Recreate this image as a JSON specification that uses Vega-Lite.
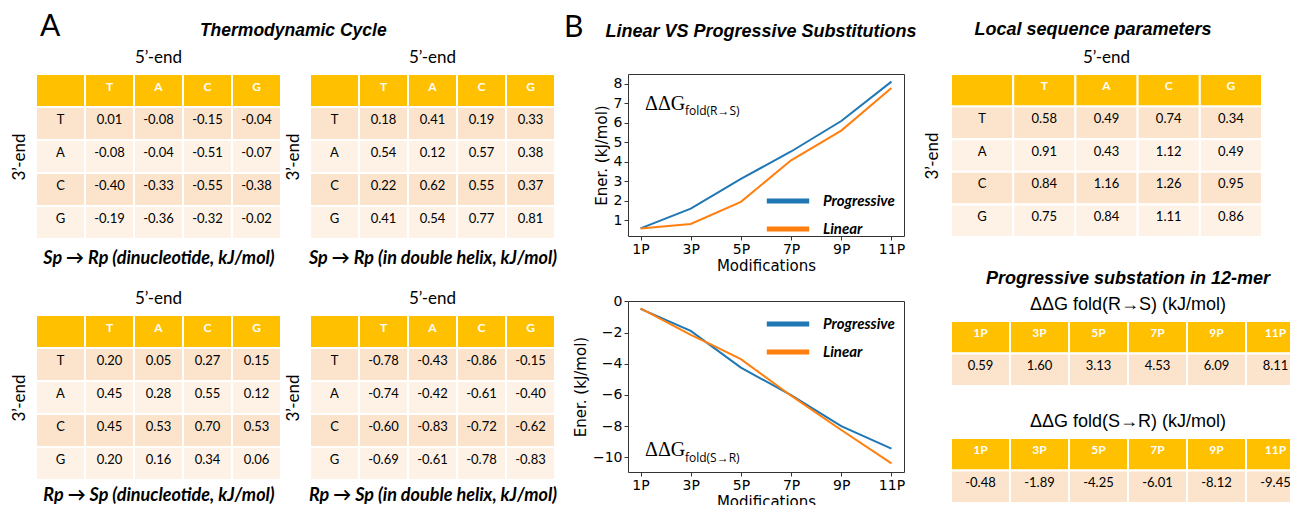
{
"$schema": "https://vega.github.io/schema/vega-lite/v6.json",
"padding": {"left": 10, "top": 11, "right": 0, "bottom": 0},
"config": {
  "view": {"stroke": null},
  "font": "Lato",
  "locale": {"number": {"decimal": ".", "thousands": ",", "grouping": [3], "currency": ["$", ""], "minus": "-"}},
  "text": {"font": "Lato", "fontSize": 13, "baseline": "middle", "dy": -4},
  "title": {"color": "black"}
},
"datasets": {
  "cells": [
    {"tab":"hdr","r":"_","c":"_","lab":""},
    {"tab":"hdr","r":"_","c":"T","lab":"T"},
    {"tab":"hdr","r":"_","c":"A","lab":"A"},
    {"tab":"hdr","r":"_","c":"C","lab":"C"},
    {"tab":"hdr","r":"_","c":"G","lab":"G"},
    {"tab":"hdr","r":"T","c":"_","lab":"T"},
    {"tab":"hdr","r":"A","c":"_","lab":"A"},
    {"tab":"hdr","r":"C","c":"_","lab":"C"},
    {"tab":"hdr","r":"G","c":"_","lab":"G"},
    {"tab":"sr_di","r":"T","c":"T","val":0.01},{"tab":"sr_di","r":"T","c":"A","val":-0.08},{"tab":"sr_di","r":"T","c":"C","val":-0.15},{"tab":"sr_di","r":"T","c":"G","val":-0.04},
    {"tab":"sr_di","r":"A","c":"T","val":-0.08},{"tab":"sr_di","r":"A","c":"A","val":-0.04},{"tab":"sr_di","r":"A","c":"C","val":-0.51},{"tab":"sr_di","r":"A","c":"G","val":-0.07},
    {"tab":"sr_di","r":"C","c":"T","val":-0.40},{"tab":"sr_di","r":"C","c":"A","val":-0.33},{"tab":"sr_di","r":"C","c":"C","val":-0.55},{"tab":"sr_di","r":"C","c":"G","val":-0.38},
    {"tab":"sr_di","r":"G","c":"T","val":-0.19},{"tab":"sr_di","r":"G","c":"A","val":-0.36},{"tab":"sr_di","r":"G","c":"C","val":-0.32},{"tab":"sr_di","r":"G","c":"G","val":-0.02},
    {"tab":"sr_dh","r":"T","c":"T","val":0.18},{"tab":"sr_dh","r":"T","c":"A","val":0.41},{"tab":"sr_dh","r":"T","c":"C","val":0.19},{"tab":"sr_dh","r":"T","c":"G","val":0.33},
    {"tab":"sr_dh","r":"A","c":"T","val":0.54},{"tab":"sr_dh","r":"A","c":"A","val":0.12},{"tab":"sr_dh","r":"A","c":"C","val":0.57},{"tab":"sr_dh","r":"A","c":"G","val":0.38},
    {"tab":"sr_dh","r":"C","c":"T","val":0.22},{"tab":"sr_dh","r":"C","c":"A","val":0.62},{"tab":"sr_dh","r":"C","c":"C","val":0.55},{"tab":"sr_dh","r":"C","c":"G","val":0.37},
    {"tab":"sr_dh","r":"G","c":"T","val":0.41},{"tab":"sr_dh","r":"G","c":"A","val":0.54},{"tab":"sr_dh","r":"G","c":"C","val":0.77},{"tab":"sr_dh","r":"G","c":"G","val":0.81},
    {"tab":"rs_di","r":"T","c":"T","val":0.20},{"tab":"rs_di","r":"T","c":"A","val":0.05},{"tab":"rs_di","r":"T","c":"C","val":0.27},{"tab":"rs_di","r":"T","c":"G","val":0.15},
    {"tab":"rs_di","r":"A","c":"T","val":0.45},{"tab":"rs_di","r":"A","c":"A","val":0.28},{"tab":"rs_di","r":"A","c":"C","val":0.55},{"tab":"rs_di","r":"A","c":"G","val":0.12},
    {"tab":"rs_di","r":"C","c":"T","val":0.45},{"tab":"rs_di","r":"C","c":"A","val":0.53},{"tab":"rs_di","r":"C","c":"C","val":0.70},{"tab":"rs_di","r":"C","c":"G","val":0.53},
    {"tab":"rs_di","r":"G","c":"T","val":0.20},{"tab":"rs_di","r":"G","c":"A","val":0.16},{"tab":"rs_di","r":"G","c":"C","val":0.34},{"tab":"rs_di","r":"G","c":"G","val":0.06},
    {"tab":"rs_dh","r":"T","c":"T","val":-0.78},{"tab":"rs_dh","r":"T","c":"A","val":-0.43},{"tab":"rs_dh","r":"T","c":"C","val":-0.86},{"tab":"rs_dh","r":"T","c":"G","val":-0.15},
    {"tab":"rs_dh","r":"A","c":"T","val":-0.74},{"tab":"rs_dh","r":"A","c":"A","val":-0.42},{"tab":"rs_dh","r":"A","c":"C","val":-0.61},{"tab":"rs_dh","r":"A","c":"G","val":-0.40},
    {"tab":"rs_dh","r":"C","c":"T","val":-0.60},{"tab":"rs_dh","r":"C","c":"A","val":-0.83},{"tab":"rs_dh","r":"C","c":"C","val":-0.72},{"tab":"rs_dh","r":"C","c":"G","val":-0.62},
    {"tab":"rs_dh","r":"G","c":"T","val":-0.69},{"tab":"rs_dh","r":"G","c":"A","val":-0.61},{"tab":"rs_dh","r":"G","c":"C","val":-0.78},{"tab":"rs_dh","r":"G","c":"G","val":-0.83},
    {"tab":"loc","r":"T","c":"T","val":0.58},{"tab":"loc","r":"T","c":"A","val":0.49},{"tab":"loc","r":"T","c":"C","val":0.74},{"tab":"loc","r":"T","c":"G","val":0.34},
    {"tab":"loc","r":"A","c":"T","val":0.91},{"tab":"loc","r":"A","c":"A","val":0.43},{"tab":"loc","r":"A","c":"C","val":1.12},{"tab":"loc","r":"A","c":"G","val":0.49},
    {"tab":"loc","r":"C","c":"T","val":0.84},{"tab":"loc","r":"C","c":"A","val":1.16},{"tab":"loc","r":"C","c":"C","val":1.26},{"tab":"loc","r":"C","c":"G","val":0.95},
    {"tab":"loc","r":"G","c":"T","val":0.75},{"tab":"loc","r":"G","c":"A","val":0.84},{"tab":"loc","r":"G","c":"C","val":1.11},{"tab":"loc","r":"G","c":"G","val":0.86}
  ],
  "prog": [
    {"tab":"phdr","r":"_","c":"1P","lab":"1P"},{"tab":"phdr","r":"_","c":"3P","lab":"3P"},{"tab":"phdr","r":"_","c":"5P","lab":"5P"},
    {"tab":"phdr","r":"_","c":"7P","lab":"7P"},{"tab":"phdr","r":"_","c":"9P","lab":"9P"},{"tab":"phdr","r":"_","c":"11P","lab":"11P"},
    {"tab":"RS","r":"v","c":"1P","val":0.59},{"tab":"RS","r":"v","c":"3P","val":1.60},{"tab":"RS","r":"v","c":"5P","val":3.13},
    {"tab":"RS","r":"v","c":"7P","val":4.53},{"tab":"RS","r":"v","c":"9P","val":6.09},{"tab":"RS","r":"v","c":"11P","val":8.11},
    {"tab":"SR","r":"v","c":"1P","val":-0.48},{"tab":"SR","r":"v","c":"3P","val":-1.89},{"tab":"SR","r":"v","c":"5P","val":-4.25},
    {"tab":"SR","r":"v","c":"7P","val":-6.01},{"tab":"SR","r":"v","c":"9P","val":-8.12},{"tab":"SR","r":"v","c":"11P","val":-9.45}
  ],
  "lines": [
    {"chart":"RS","series":"Progressive","m":1,"e":0.59},{"chart":"RS","series":"Progressive","m":3,"e":1.60},{"chart":"RS","series":"Progressive","m":5,"e":3.13},
    {"chart":"RS","series":"Progressive","m":7,"e":4.53},{"chart":"RS","series":"Progressive","m":9,"e":6.09},{"chart":"RS","series":"Progressive","m":11,"e":8.11},
    {"chart":"RS","series":"Linear","m":1,"e":0.58},{"chart":"RS","series":"Linear","m":3,"e":0.82},{"chart":"RS","series":"Linear","m":5,"e":1.95},
    {"chart":"RS","series":"Linear","m":7,"e":4.08},{"chart":"RS","series":"Linear","m":9,"e":5.6},{"chart":"RS","series":"Linear","m":11,"e":7.78},
    {"chart":"SR","series":"Progressive","m":1,"e":-0.48},{"chart":"SR","series":"Progressive","m":3,"e":-1.89},{"chart":"SR","series":"Progressive","m":5,"e":-4.25},
    {"chart":"SR","series":"Progressive","m":7,"e":-6.01},{"chart":"SR","series":"Progressive","m":9,"e":-8.0},{"chart":"SR","series":"Progressive","m":11,"e":-9.45},
    {"chart":"SR","series":"Linear","m":1,"e":-0.45},{"chart":"SR","series":"Linear","m":3,"e":-2.15},{"chart":"SR","series":"Linear","m":3.8,"e":-2.75},
    {"chart":"SR","series":"Linear","m":5,"e":-3.7},{"chart":"SR","series":"Linear","m":7,"e":-6.05},{"chart":"SR","series":"Linear","m":9,"e":-8.25},
    {"chart":"SR","series":"Linear","m":11,"e":-10.4}
  ]
},
"spacing": 6,
"hconcat": [
  {
    "title": {"text": "A", "anchor": "start", "font": "Lato", "fontSize": 30, "fontWeight": "normal", "offset": -20, "dx": 30},
    "vconcat": [{
      "title": {"text": "Thermodynamic Cycle", "font": "Liberation Sans", "fontSize": 17.5, "fontStyle": "italic", "fontWeight": "bold", "anchor": "middle", "offset": 10, "dx": 10},
      "spacing": 23,
      "vconcat": [
        {"spacing": 2, "hconcat": [
          {"width": 245, "height": 165, "data": {"name": "cells"},
           "transform": [{"filter": "datum.tab=='hdr' || datum.tab=='sr_di'"}],
           "title": {"text": "5’-end", "font": "Lato", "fontSize": 17, "fontWeight": "normal", "offset": 6},
           "encoding": {
             "x": {"field": "c", "type": "nominal", "sort": ["_","T","A","C","G"], "scale": {"paddingInner": 0, "paddingOuter": 0},
                   "axis": {"orient": "bottom", "title": "Sp → Rp (dinucleotide, kJ/mol)", "labels": false, "ticks": false, "domain": false, "titleFont": "Lato", "titleFontSize": 18, "titleFontWeight": "bold", "titleFontStyle": "italic", "titlePadding": 10, "titleColor": "black"}},
             "y": {"field": "r", "type": "nominal", "sort": ["_","T","A","C","G"], "scale": {"paddingInner": 0, "paddingOuter": 0},
                   "axis": {"title": "3’-end", "labels": false, "ticks": false, "domain": false, "titleFont": "Lato", "titleFontSize": 17, "titleFontWeight": "normal", "titlePadding": 8, "titleColor": "black"}}
           },
           "layer": [
             {"mark": {"type": "rect", "stroke": "white", "strokeWidth": 2}, "encoding": {"fill": {"field": "r", "type": "nominal", "scale": {"domain": ["_","T","A","C","G","v"], "range": ["#FFC000","#FCE4CC","#FEF2E6","#FCE4CC","#FEF2E6","#FCE4CC"]}, "legend": null}}},
             {"transform": [{"filter": "datum.r=='_'"}], "mark": {"type": "text", "color": "white", "fontWeight": "bold", "fontSize": 12}, "encoding": {"text": {"field": "lab"}}},
             {"transform": [{"filter": "datum.r!='_' && datum.c=='_'"}], "mark": {"type": "text", "color": "black"}, "encoding": {"text": {"field": "lab"}}},
             {"transform": [{"filter": "isValid(datum.val)"}], "mark": {"type": "text", "color": "black"}, "encoding": {"text": {"field": "val", "type": "quantitative", "format": ".2f"}}}
           ]},
          {"width": 245, "height": 165, "data": {"name": "cells"},
           "transform": [{"filter": "datum.tab=='hdr' || datum.tab=='sr_dh'"}],
           "title": {"text": "5’-end", "font": "Lato", "fontSize": 17, "fontWeight": "normal", "offset": 6},
           "encoding": {
             "x": {"field": "c", "type": "nominal", "sort": ["_","T","A","C","G"], "scale": {"paddingInner": 0, "paddingOuter": 0},
                   "axis": {"orient": "bottom", "title": "Sp → Rp (in double helix, kJ/mol)", "labels": false, "ticks": false, "domain": false, "titleFont": "Lato", "titleFontSize": 18, "titleFontWeight": "bold", "titleFontStyle": "italic", "titlePadding": 10, "titleColor": "black"}},
             "y": {"field": "r", "type": "nominal", "sort": ["_","T","A","C","G"], "scale": {"paddingInner": 0, "paddingOuter": 0},
                   "axis": {"title": "3’-end", "labels": false, "ticks": false, "domain": false, "titleFont": "Lato", "titleFontSize": 17, "titleFontWeight": "normal", "titlePadding": 8, "titleColor": "black"}}
           },
           "layer": [
             {"mark": {"type": "rect", "stroke": "white", "strokeWidth": 2}, "encoding": {"fill": {"field": "r", "type": "nominal", "scale": {"domain": ["_","T","A","C","G","v"], "range": ["#FFC000","#FCE4CC","#FEF2E6","#FCE4CC","#FEF2E6","#FCE4CC"]}, "legend": null}}},
             {"transform": [{"filter": "datum.r=='_'"}], "mark": {"type": "text", "color": "white", "fontWeight": "bold", "fontSize": 12}, "encoding": {"text": {"field": "lab"}}},
             {"transform": [{"filter": "datum.r!='_' && datum.c=='_'"}], "mark": {"type": "text", "color": "black"}, "encoding": {"text": {"field": "lab"}}},
             {"transform": [{"filter": "isValid(datum.val)"}], "mark": {"type": "text", "color": "black"}, "encoding": {"text": {"field": "val", "type": "quantitative", "format": ".2f"}}}
           ]}
        ]},
        {"spacing": 2, "hconcat": [
          {"width": 245, "height": 165, "data": {"name": "cells"},
           "transform": [{"filter": "datum.tab=='hdr' || datum.tab=='rs_di'"}],
           "title": {"text": "5’-end", "font": "Lato", "fontSize": 17, "fontWeight": "normal", "offset": 6},
           "encoding": {
             "x": {"field": "c", "type": "nominal", "sort": ["_","T","A","C","G"], "scale": {"paddingInner": 0, "paddingOuter": 0},
                   "axis": {"orient": "bottom", "title": "Rp → Sp (dinucleotide, kJ/mol)", "labels": false, "ticks": false, "domain": false, "titleFont": "Lato", "titleFontSize": 18, "titleFontWeight": "bold", "titleFontStyle": "italic", "titlePadding": 6, "titleColor": "black"}},
             "y": {"field": "r", "type": "nominal", "sort": ["_","T","A","C","G"], "scale": {"paddingInner": 0, "paddingOuter": 0},
                   "axis": {"title": "3’-end", "labels": false, "ticks": false, "domain": false, "titleFont": "Lato", "titleFontSize": 17, "titleFontWeight": "normal", "titlePadding": 8, "titleColor": "black"}}
           },
           "layer": [
             {"mark": {"type": "rect", "stroke": "white", "strokeWidth": 2}, "encoding": {"fill": {"field": "r", "type": "nominal", "scale": {"domain": ["_","T","A","C","G","v"], "range": ["#FFC000","#FCE4CC","#FEF2E6","#FCE4CC","#FEF2E6","#FCE4CC"]}, "legend": null}}},
             {"transform": [{"filter": "datum.r=='_'"}], "mark": {"type": "text", "color": "white", "fontWeight": "bold", "fontSize": 12}, "encoding": {"text": {"field": "lab"}}},
             {"transform": [{"filter": "datum.r!='_' && datum.c=='_'"}], "mark": {"type": "text", "color": "black"}, "encoding": {"text": {"field": "lab"}}},
             {"transform": [{"filter": "isValid(datum.val)"}], "mark": {"type": "text", "color": "black"}, "encoding": {"text": {"field": "val", "type": "quantitative", "format": ".2f"}}}
           ]},
          {"width": 245, "height": 165, "data": {"name": "cells"},
           "transform": [{"filter": "datum.tab=='hdr' || datum.tab=='rs_dh'"}],
           "title": {"text": "5’-end", "font": "Lato", "fontSize": 17, "fontWeight": "normal", "offset": 6},
           "encoding": {
             "x": {"field": "c", "type": "nominal", "sort": ["_","T","A","C","G"], "scale": {"paddingInner": 0, "paddingOuter": 0},
                   "axis": {"orient": "bottom", "title": "Rp → Sp (in double helix, kJ/mol)", "labels": false, "ticks": false, "domain": false, "titleFont": "Lato", "titleFontSize": 18, "titleFontWeight": "bold", "titleFontStyle": "italic", "titlePadding": 6, "titleColor": "black"}},
             "y": {"field": "r", "type": "nominal", "sort": ["_","T","A","C","G"], "scale": {"paddingInner": 0, "paddingOuter": 0},
                   "axis": {"title": "3’-end", "labels": false, "ticks": false, "domain": false, "titleFont": "Lato", "titleFontSize": 17, "titleFontWeight": "normal", "titlePadding": 8, "titleColor": "black"}}
           },
           "layer": [
             {"mark": {"type": "rect", "stroke": "white", "strokeWidth": 2}, "encoding": {"fill": {"field": "r", "type": "nominal", "scale": {"domain": ["_","T","A","C","G","v"], "range": ["#FFC000","#FCE4CC","#FEF2E6","#FCE4CC","#FEF2E6","#FCE4CC"]}, "legend": null}}},
             {"transform": [{"filter": "datum.r=='_'"}], "mark": {"type": "text", "color": "white", "fontWeight": "bold", "fontSize": 12}, "encoding": {"text": {"field": "lab"}}},
             {"transform": [{"filter": "datum.r!='_' && datum.c=='_'"}], "mark": {"type": "text", "color": "black"}, "encoding": {"text": {"field": "lab"}}},
             {"transform": [{"filter": "isValid(datum.val)"}], "mark": {"type": "text", "color": "black"}, "encoding": {"text": {"field": "val", "type": "quantitative", "format": ".2f"}}}
           ]}
        ]}
      ]
    }]
  },
  {
    "title": {"text": "B", "anchor": "start", "font": "Lato", "fontSize": 30, "fontWeight": "normal", "offset": -20, "dx": -9},
    "vconcat": [{
      "title": {"text": "Linear VS Progressive Substitutions", "font": "Liberation Sans", "fontSize": 18, "fontStyle": "italic", "fontWeight": "bold", "anchor": "middle", "offset": 33, "dx": 22},
      "spacing": 19,
      "resolve": {"scale": {"color": "independent"}},
      "vconcat": [
        {"width": 276, "height": 162, "view": {"stroke": "#333", "strokeWidth": 1},
         "layer": [
           {"data": {"name": "lines"}, "transform": [{"filter": "datum.chart=='RS'"}],
            "mark": {"type": "line", "strokeWidth": 2},
            "encoding": {
              "x": {"field": "m", "type": "quantitative", "scale": {"domain": [0.5, 11.5], "nice": false, "zero": false},
                    "axis": {"values": [1,3,5,7,9,11], "tickCount": 20, "labelExpr": "datum.value + 'P'", "labelOverlap": false, "grid": false, "domain": false, "tickSize": 4, "tickColor": "#333", "labelFont": "DejaVu Sans", "labelFontSize": 14, "labelColor": "black", "labelPadding": 2, "title": "Modifications", "titleFont": "DejaVu Sans", "titleFontSize": 15, "titleFontWeight": "normal", "titleColor": "black", "titlePadding": 2}},
              "y": {"field": "e", "type": "quantitative", "scale": {"domain": [0.2, 8.5], "nice": false, "zero": false},
                    "axis": {"values": [1,2,3,4,5,6,7,8], "tickCount": 20, "format": "d", "labelOverlap": false, "grid": false, "domain": false, "tickSize": 4, "tickColor": "#333", "labelFont": "DejaVu Sans", "labelFontSize": 14, "labelColor": "black", "labelPadding": 2, "title": "Ener. (kJ/mol)", "titleFont": "DejaVu Sans", "titleFontSize": 15, "titleFontWeight": "normal", "titleColor": "black", "titlePadding": 4}},
              "color": {"field": "series", "type": "nominal", "scale": {"domain": ["Progressive", "Linear"], "range": ["#1f77b4", "#ff7f0e"]},
                        "legend": {"orient": "none", "legendX": 136, "legendY": 113, "title": null, "symbolType": "stroke", "symbolStrokeWidth": 5, "symbolSize": 1800, "clipHeight": 28, "labelFont": "Lato", "labelFontStyle": "italic", "labelFontWeight": "bold", "labelFontSize": 15, "labelColor": "black", "labelOffset": 11, "rowPadding": 0}}
            }},
           {"data": {"values": [{}]}, "mark": {"type": "text", "font": "Liberation Serif", "fontSize": 20, "align": "left", "baseline": "alphabetic", "dy": 0},
            "encoding": {"x": {"datum": 1.18, "type": "quantitative"}, "y": {"datum": 6.67, "type": "quantitative"}, "text": {"value": "ΔΔG"}}},
           {"data": {"values": [{}]}, "mark": {"type": "text", "font": "Open Sans", "fontSize": 12, "align": "left", "baseline": "alphabetic", "dy": 0},
            "encoding": {"x": {"datum": 2.77, "type": "quantitative"}, "y": {"datum": 6.42, "type": "quantitative"}, "text": {"value": "fold(R→S)"}}}
         ]},
        {"width": 276, "height": 171, "view": {"stroke": "#333", "strokeWidth": 1},
         "layer": [
           {"data": {"name": "lines"}, "transform": [{"filter": "datum.chart=='SR'"}],
            "mark": {"type": "line", "strokeWidth": 2},
            "encoding": {
              "x": {"field": "m", "type": "quantitative", "scale": {"domain": [0.5, 11.5], "nice": false, "zero": false},
                    "axis": {"values": [1,3,5,7,9,11], "tickCount": 20, "labelExpr": "datum.value + 'P'", "labelOverlap": false, "grid": false, "domain": false, "tickSize": 4, "tickColor": "#333", "labelFont": "DejaVu Sans", "labelFontSize": 14, "labelColor": "black", "labelPadding": 2, "title": "Modifications", "titleFont": "DejaVu Sans", "titleFontSize": 15, "titleFontWeight": "normal", "titleColor": "black", "titlePadding": 2}},
              "y": {"field": "e", "type": "quantitative", "scale": {"domain": [-10.95, 0.03], "nice": false, "zero": false},
                    "axis": {"values": [0,-2,-4,-6,-8,-10], "tickCount": 20, "format": "d", "labelExpr": "replace(datum.label, '-', '−')", "labelOverlap": false, "grid": false, "domain": false, "tickSize": 4, "tickColor": "#333", "labelFont": "DejaVu Sans", "labelFontSize": 14, "labelColor": "black", "labelPadding": 2, "title": "Ener. (kJ/mol)", "titleFont": "DejaVu Sans", "titleFontSize": 15, "titleFontWeight": "normal", "titleColor": "black", "titlePadding": 4}},
              "color": {"field": "series", "type": "nominal", "scale": {"domain": ["Progressive", "Linear"], "range": ["#1f77b4", "#ff7f0e"]},
                        "legend": {"orient": "none", "legendX": 136, "legendY": 9, "title": null, "symbolType": "stroke", "symbolStrokeWidth": 5, "symbolSize": 1800, "clipHeight": 28, "labelFont": "Lato", "labelFontStyle": "italic", "labelFontWeight": "bold", "labelFontSize": 15, "labelColor": "black", "labelOffset": 11, "rowPadding": 0}}
            }},
           {"data": {"values": [{}]}, "mark": {"type": "text", "font": "Liberation Serif", "fontSize": 20, "align": "left", "baseline": "alphabetic", "dy": 0},
            "encoding": {"x": {"datum": 1.18, "type": "quantitative"}, "y": {"datum": -9.94, "type": "quantitative"}, "text": {"value": "ΔΔG"}}},
           {"data": {"values": [{}]}, "mark": {"type": "text", "font": "Open Sans", "fontSize": 12, "align": "left", "baseline": "alphabetic", "dy": 0},
            "encoding": {"x": {"datum": 2.77, "type": "quantitative"}, "y": {"datum": -10.3, "type": "quantitative"}, "text": {"value": "fold(S→R)"}}}
         ]}
      ]
    }]
  },
  {
    "columns": 1,
    "align": "none",
    "spacing": 32,
    "concat": [
      {"title": {"text": "Local sequence parameters", "font": "Liberation Sans", "fontSize": 18, "fontStyle": "italic", "fontWeight": "bold", "anchor": "middle", "offset": 10},
       "vconcat": [
        {"width": 311, "height": 163, "data": {"name": "cells"},
         "transform": [{"filter": "datum.tab=='hdr' || datum.tab=='loc'"}],
         "title": {"text": "5’-end", "font": "Lato", "fontSize": 17, "fontWeight": "normal", "offset": 6},
         "encoding": {
           "x": {"field": "c", "type": "nominal", "sort": ["_","T","A","C","G"], "scale": {"paddingInner": 0, "paddingOuter": 0}, "axis": null},
           "y": {"field": "r", "type": "nominal", "sort": ["_","T","A","C","G"], "scale": {"paddingInner": 0, "paddingOuter": 0},
                 "axis": {"title": "3’-end", "labels": false, "ticks": false, "domain": false, "titleFont": "Lato", "titleFontSize": 17, "titleFontWeight": "normal", "titlePadding": 10, "titleColor": "black"}}
         },
         "layer": [
           {"mark": {"type": "rect", "stroke": "white", "strokeWidth": 2}, "encoding": {"fill": {"field": "r", "type": "nominal", "scale": {"domain": ["_","T","A","C","G","v"], "range": ["#FFC000","#FCE4CC","#FEF2E6","#FCE4CC","#FEF2E6","#FCE4CC"]}, "legend": null}}},
           {"transform": [{"filter": "datum.r=='_'"}], "mark": {"type": "text", "color": "white", "fontWeight": "bold", "fontSize": 12}, "encoding": {"text": {"field": "lab"}}},
           {"transform": [{"filter": "datum.r!='_' && datum.c=='_'"}], "mark": {"type": "text", "color": "black"}, "encoding": {"text": {"field": "lab"}}},
           {"transform": [{"filter": "isValid(datum.val)"}], "mark": {"type": "text", "color": "black"}, "encoding": {"text": {"field": "val", "type": "quantitative", "format": ".2f"}}}
         ]}
       ]},
      {"title": {"text": "Progressive substation in 12-mer", "font": "Liberation Sans", "fontSize": 18, "fontStyle": "italic", "fontWeight": "bold", "anchor": "middle", "offset": 8},
       "spacing": 26,
       "vconcat": [
        {"width": 354, "height": 65, "data": {"name": "prog"},
         "transform": [{"filter": "datum.tab=='phdr' || datum.tab=='RS'"}],
         "title": {"text": "ΔΔG fold(R→S) (kJ/mol)", "font": "Liberation Sans", "fontSize": 18, "fontWeight": "normal", "offset": 6},
         "encoding": {
           "x": {"field": "c", "type": "nominal", "sort": ["1P","3P","5P","7P","9P","11P"], "scale": {"paddingInner": 0, "paddingOuter": 0}, "axis": null},
           "y": {"field": "r", "type": "nominal", "sort": ["_","v"], "scale": {"paddingInner": 0, "paddingOuter": 0}, "axis": null}
         },
         "layer": [
           {"mark": {"type": "rect", "stroke": "white", "strokeWidth": 2}, "encoding": {"fill": {"field": "r", "type": "nominal", "scale": {"domain": ["_","T","A","C","G","v"], "range": ["#FFC000","#FCE4CC","#FEF2E6","#FCE4CC","#FEF2E6","#FCE4CC"]}, "legend": null}}},
           {"transform": [{"filter": "datum.r=='_'"}], "mark": {"type": "text", "color": "white", "fontWeight": "bold", "fontSize": 12}, "encoding": {"text": {"field": "lab"}}},
           {"transform": [{"filter": "isValid(datum.val)"}], "mark": {"type": "text", "color": "black"}, "encoding": {"text": {"field": "val", "type": "quantitative", "format": ".2f"}}}
         ]},
        {"width": 354, "height": 65, "data": {"name": "prog"},
         "transform": [{"filter": "datum.tab=='phdr' || datum.tab=='SR'"}],
         "title": {"text": "ΔΔG fold(S→R) (kJ/mol)", "font": "Liberation Sans", "fontSize": 18, "fontWeight": "normal", "offset": 6},
         "encoding": {
           "x": {"field": "c", "type": "nominal", "sort": ["1P","3P","5P","7P","9P","11P"], "scale": {"paddingInner": 0, "paddingOuter": 0}, "axis": null},
           "y": {"field": "r", "type": "nominal", "sort": ["_","v"], "scale": {"paddingInner": 0, "paddingOuter": 0}, "axis": null}
         },
         "layer": [
           {"mark": {"type": "rect", "stroke": "white", "strokeWidth": 2}, "encoding": {"fill": {"field": "r", "type": "nominal", "scale": {"domain": ["_","T","A","C","G","v"], "range": ["#FFC000","#FCE4CC","#FEF2E6","#FCE4CC","#FEF2E6","#FCE4CC"]}, "legend": null}}},
           {"transform": [{"filter": "datum.r=='_'"}], "mark": {"type": "text", "color": "white", "fontWeight": "bold", "fontSize": 12}, "encoding": {"text": {"field": "lab"}}},
           {"transform": [{"filter": "isValid(datum.val)"}], "mark": {"type": "text", "color": "black"}, "encoding": {"text": {"field": "val", "type": "quantitative", "format": ".2f"}}}
         ]}
       ]}
    ]
  }
]
}
